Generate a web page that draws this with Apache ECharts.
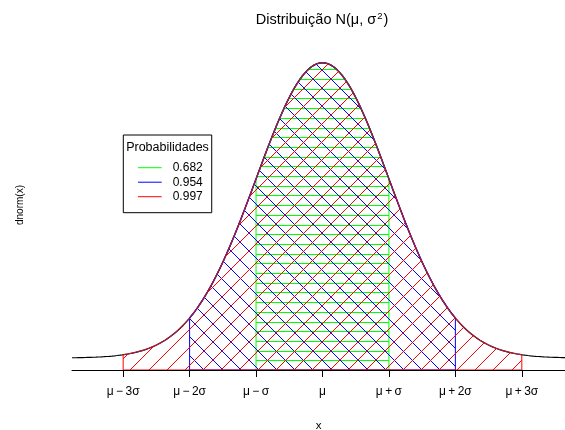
<!DOCTYPE html>
<html>
<head>
<meta charset="utf-8">
<script src="https://cdn.jsdelivr.net/npm/echarts@6/dist/echarts.min.js"></script>
<style>
html,body{margin:0;padding:0;background:#fff;}
#chart{width:565px;height:430px;}
</style>
</head>
<body>
<div id="chart"></div>
<script>
// ---- data ----
const tickValues = [-3, -2, -1, 0, 1, 2, 3];
const tickLabels = ['μ\u2009−\u20093σ', 'μ\u2009−\u20092σ', 'μ\u2009−\u2009σ', 'μ', 'μ\u2009+\u2009σ', 'μ\u2009+\u20092σ', 'μ\u2009+\u20093σ'];
const bandSigmas = [1, 2, 3];
const bandProbs = ['0.682', '0.954', '0.997'];
const xRange = [-3.77, 3.65];
const yRange = [-0.0162, 0.4297];

// ---- styles ----
const FONT = 'Liberation Sans, Arial, Helvetica, sans-serif';
const bandStyles = [
  { color: '#00ff00', topColor: '#00ff00', angle: 0,   gap: 9.7,   phase: 0 },
  { color: '#0000ff', topColor: '#0000ff', angle: -45, gap: 18.15, phase: 9.55 },
  { color: '#ff0000', topColor: '#a81d3a', angle: 45,  gap: 18.15, phase: 7.15 }
];

function dnorm(x) { return Math.exp(-x * x / 2) / Math.sqrt(2 * Math.PI); }

const curveData = [];
const nCurve = Math.round((xRange[1] - xRange[0]) / 0.01);
for (let i = 0; i <= nCurve; i++) {
  const x = xRange[0] + (xRange[1] - xRange[0]) * i / nCurve;
  curveData.push([x, dnorm(x)]);
}

function makeRender(b) {
  return function (params, api) {
    const k = api.value(0);
    const yb = yRange[0];
    const n = 200;
    const top = [];
    for (let i = 0; i <= n; i++) {
      const x = -k + 2 * k * i / n;
      top.push(api.coord([x, dnorm(x)]));
    }
    const bl = api.coord([-k, yb]);
    const br = api.coord([k, yb]);
    const poly = top.concat([br, bl]);
    const minX = bl[0], maxX = br[0], base = bl[1];
    let minY = Infinity;
    top.forEach(function (p) { if (p[1] < minY) minY = p[1]; });
    const H = Math.ceil(base - minY) + 4;
    const mu = api.coord([0, yb])[0];
    const lines = [];
    if (b.angle === 0) {
      for (let y = base - b.gap; y > minY - 1; y -= b.gap) {
        const yy = Math.round(y) + 0.5;
        lines.push({ type: 'line', shape: { x1: minX, y1: yy, x2: maxX, y2: yy }, style: { stroke: b.color, lineWidth: 1, fill: 'none' } });
      }
    } else {
      const dir = b.angle > 0 ? 1 : -1;
      const by = Math.round(base) + 0.5;
      const s0 = mu + b.phase + Math.floor((minX - H - mu - b.phase) / b.gap) * b.gap;
      for (let x0 = s0; x0 <= maxX + H; x0 += b.gap) {
        const xr = Math.floor(x0) + 0.5;
        lines.push({ type: 'line', shape: { x1: xr, y1: by, x2: xr + dir * H, y2: by - H }, style: { stroke: b.color, lineWidth: 1, fill: 'none' } });
      }
    }
    return {
      type: 'group',
      children: [
        { type: 'group', children: lines, clipPath: { type: 'polygon', shape: { points: poly } } },
        { type: 'polyline', shape: { points: [top[0], bl, br, top[n]] }, style: { stroke: b.color, lineWidth: 1, fill: 'none' } },
        { type: 'polyline', shape: { points: top }, style: { stroke: b.topColor, lineWidth: 1.3, fill: 'none' } }
      ]
    };
  };
}

const series = [{
  type: 'line',
  name: 'dnorm',
  data: curveData,
  showSymbol: false,
  symbol: 'none',
  z: 1,
  lineStyle: { color: '#000', width: 1.2 },
  silent: true,
  animation: false
}];
bandSigmas.forEach(function (k, i) {
  series.push({
    type: 'custom',
    name: bandProbs[i],
    data: [[k, 0]],
    encode: { x: 0, y: 1 },
    renderItem: makeRender(bandStyles[i]),
    itemStyle: { color: bandStyles[i].color },
    z: 2,
    silent: true,
    animation: false
  });
});

const chart = echarts.init(document.getElementById('chart'), null, { renderer: 'canvas' });
chart.setOption({
  animation: false,
  backgroundColor: '#fff',
  title: {
    text: 'Distribuição N(μ, σ{sup|2})',
    left: 322,
    top: 11.5,
    padding: 0,
    textAlign: 'center',
    textStyle: {
      fontFamily: FONT, fontSize: 14.5, fontWeight: 'normal', color: '#000', lineHeight: 16,
      rich: { sup: { fontFamily: FONT, fontSize: 9.5, lineHeight: 9, verticalAlign: 'top', color: '#000', padding: [0, 1, 0, 1] } }
    }
  },
  grid: { left: 72, right: 0, top: 40, bottom: 60, containLabel: false, outerBoundsMode: 'none' },
  xAxis: {
    type: 'value',
    min: xRange[0],
    max: xRange[1],
    z: 10,
    axisLine: { show: true, onZero: false, lineStyle: { color: '#000', width: 1 } },
    axisTick: { show: true, customValues: tickValues, length: 7, lineStyle: { color: '#000', width: 1 } },
    axisLabel: {
      show: true, customValues: tickValues, margin: 16, color: '#000', fontSize: 12, fontFamily: FONT,
      formatter: function (v) { const i = tickValues.indexOf(Math.round(v)); return i >= 0 ? tickLabels[i] : ''; }
    },
    splitLine: { show: false },
    name: 'x',
    nameLocation: 'middle',
    nameGap: 49.5,
    nameTextStyle: { color: '#000', fontSize: 11.5, fontFamily: FONT }
  },
  yAxis: {
    type: 'value',
    min: yRange[0],
    max: yRange[1],
    axisLine: { show: false },
    axisTick: { show: false },
    axisLabel: { show: false },
    splitLine: { show: false },
    name: 'dnorm(x)',
    nameLocation: 'middle',
    nameRotate: 90,
    nameGap: 47,
    nameTextStyle: { color: '#000', fontSize: 10, fontFamily: FONT }
  },
  legend: {
    data: bandProbs,
    orient: 'vertical',
    left: 123.3,
    top: 135,
    padding: [25.45, 9, 8.75, 14.7],
    itemGap: 0,
    itemWidth: 23.7,
    itemHeight: 1,
    icon: 'rect',
    selectedMode: false,
    borderColor: '#000',
    borderWidth: 1,
    borderRadius: 0,
    backgroundColor: '#fff',
    textStyle: { color: '#000', fontSize: 12, fontFamily: FONT, lineHeight: 14.5, padding: [0, 0, 0, 6] }
  },
  graphic: [{
    type: 'text',
    x: 167.5,
    y: 147.7,
    z: 100,
    style: { text: 'Probabilidades', fill: '#000', fontSize: 12.5, fontFamily: FONT, align: 'center', verticalAlign: 'middle' }
  }],
  series: series
});
</script>
</body>
</html>
